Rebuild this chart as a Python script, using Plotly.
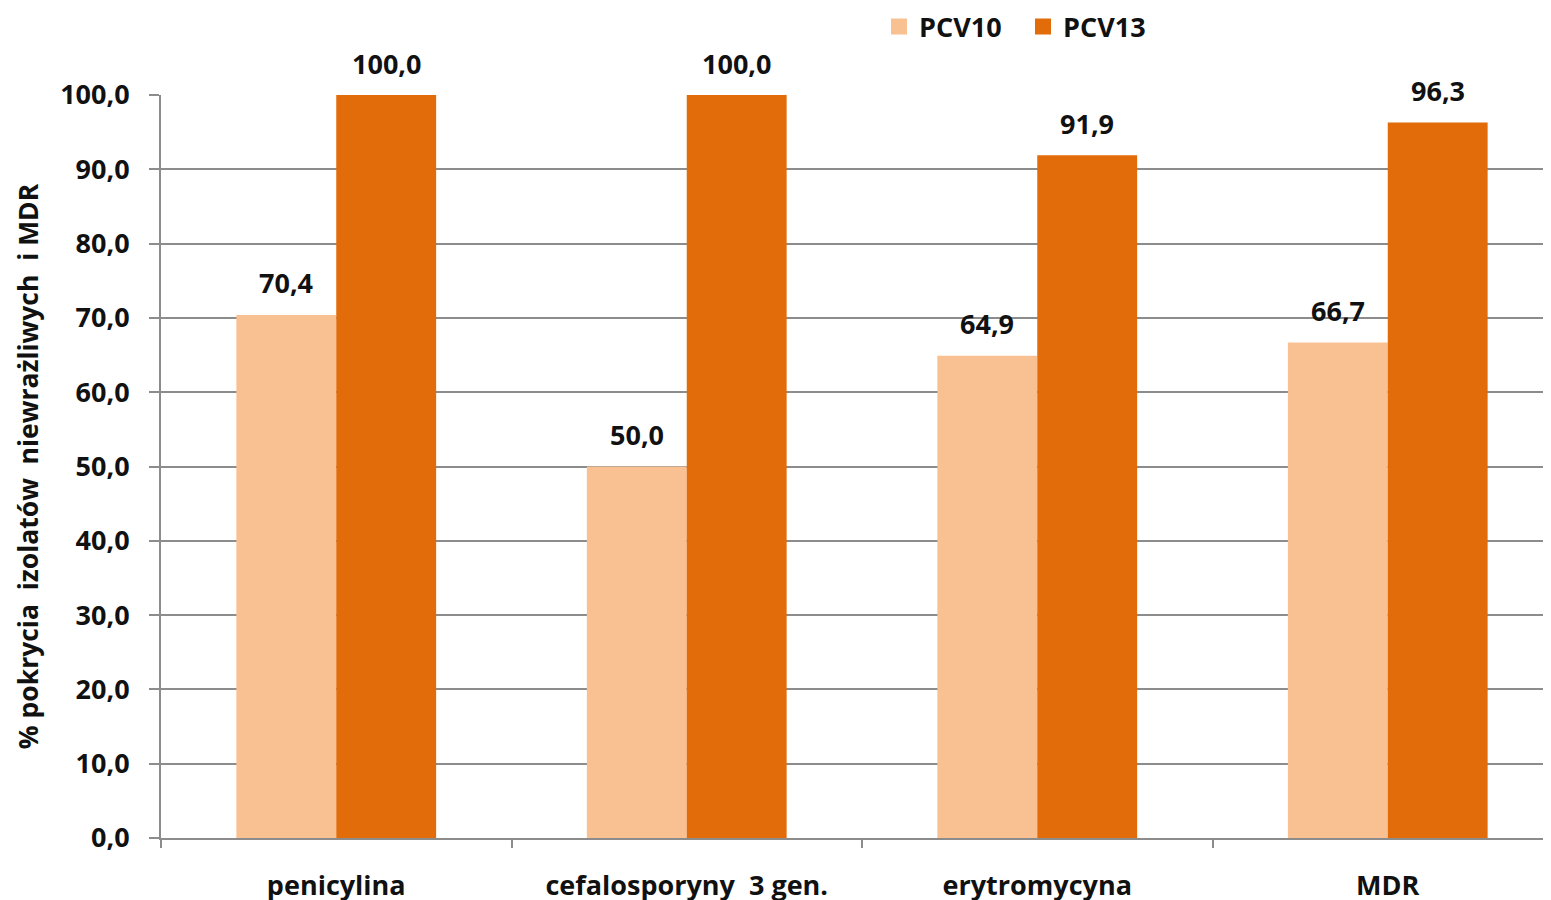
import plotly.graph_objects as go

categories = ["penicylina", "cefalosporyny  3 gen.", "erytromycyna", "MDR"]
pcv10 = [70.4, 50.0, 64.9, 66.7]
pcv13 = [100.0, 100.0, 91.9, 96.3]
y_ticks = [0, 10, 20, 30, 40, 50, 60, 70, 80, 90, 100]
series_names = ["PCV10", "PCV13"]
series_colors = ["#F9C091", "#E36C0A"]

FONT = "Open Sans"
FS = 27
W, H = 1555, 900  # page body adds an 8px offset; plot runs past the right edge

fig = go.Figure()
for name, vals, col in zip(series_names, (pcv10, pcv13), series_colors):
    fig.add_trace(go.Bar(name=name, x=categories, y=vals, marker_color=col,
                         marker_line_width=0, showlegend=False))
# legend entries with larger square swatches
for name, col in zip(series_names, series_colors):
    fig.add_trace(go.Scatter(name=name, x=[categories[0]], y=[None], mode="markers",
                             marker=dict(symbol="square", size=19, color=col,
                                         line=dict(width=0)),
                             showlegend=True, hoverinfo="skip"))

# value labels above each bar (offset by half a group to sit over each bar)
for vals, shift in ((pcv10, -50), (pcv13, 50)):
    for cat, v in zip(categories, vals):
        fig.add_annotation(x=cat, y=v, xref="x", yref="y",
                           text=f"{v:.1f}".replace(".", ","), showarrow=False,
                           xshift=shift, yshift=32, yanchor="middle",
                           font=dict(family=FONT, size=FS, color="#111111", weight="bold"))

fig.update_layout(
    width=W, height=H,
    margin=dict(l=153, r=0, t=87, b=70, autoexpand=False),
    paper_bgcolor="white", plot_bgcolor="white",
    barmode="group", bargap=0.43, bargroupgap=0,
    separators=", ",
    font=dict(family=FONT, size=FS, color="#111111", weight="bold"),
    legend=dict(orientation="h", xref="container", yref="container",
                x=871 / W, xanchor="left", y=1 - 19 / H, yanchor="middle",
                font=dict(family=FONT, size=FS, weight="bold"),
                itemwidth=30, entrywidth=99, entrywidthmode="pixels",
                traceorder="normal"),
)
fig.update_yaxes(range=[0, 100], tickvals=y_ticks, tickformat=".1f",
                 automargin=False,
                 showgrid=True, gridcolor="#8C8C8C", gridwidth=2,
                 showline=True, linecolor="#8C8C8C", linewidth=2,
                 ticks="outside", ticklen=10, tickcolor="#8C8C8C", tickwidth=2,
                 ticklabelstandoff=14, zeroline=False,
                 tickfont=dict(family=FONT, size=FS, weight="bold"),
                 title=dict(text="% pokrycia  izolatów  niewrażliwych  i MDR",
                            font=dict(family=FONT, size=26.5, weight="bold"), standoff=14))
fig.update_xaxes(range=[-0.5, 3.5], automargin=False,
                 showline=True, linecolor="#8C8C8C", linewidth=2,
                 ticks="outside", tickson="boundaries", ticklen=8, tickcolor="#8C8C8C",
                 tickwidth=2, ticklabelstandoff=23,
                 tickfont=dict(family=FONT, size=FS, weight="bold"))

fig.write_html("out.html")
